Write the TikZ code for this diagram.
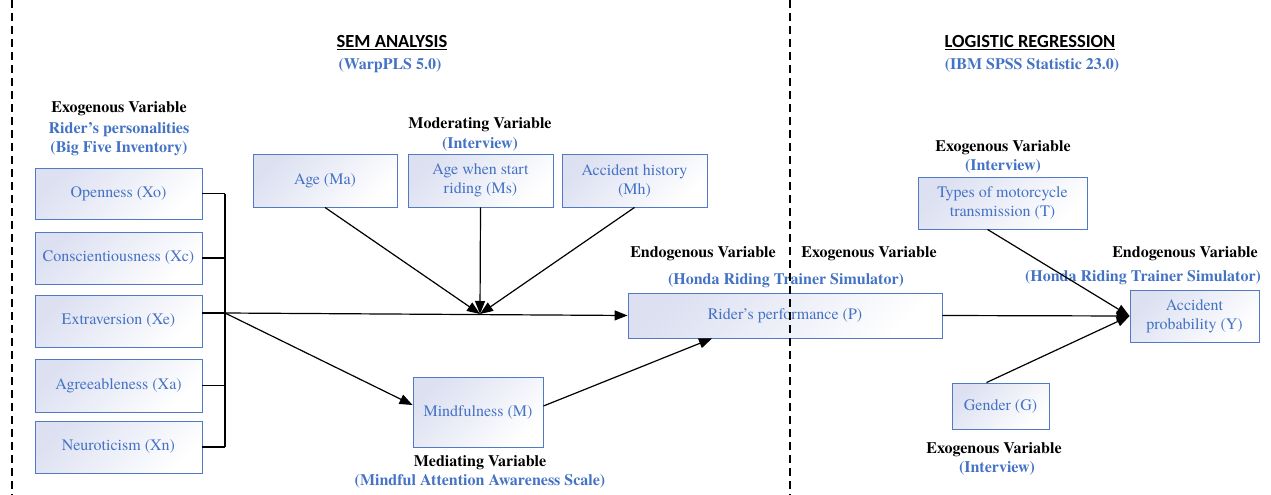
\documentclass[tikz,border=0pt]{standalone}
\usepackage{fontspec}
\setmainfont{TeX Gyre Termes}
\newfontfamily\titlefont{Carlito}
\usetikzlibrary{arrows.meta,calc}
\definecolor{txtblue}{HTML}{4472C4}
\definecolor{boxline}{HTML}{5079C6}
\definecolor{boxfill}{HTML}{DCE0F1}
\begin{document}
\begin{tikzpicture}[x=1pt,y=-1pt,
  box/.style={draw=boxline, line width=0.9pt, left color=boxfill, right color=white, shading angle=45,
    text=txtblue, font=\fontsize{16}{19}\selectfont, align=center, inner sep=2pt},
  head/.style={font=\bfseries\fontsize{16}{19}\selectfont, anchor=base},
  sub/.style={head, text=txtblue},
  subblock/.style={font=\bfseries\fontsize{16}{19}\selectfont, text=txtblue, align=center, inner sep=0pt},
  ttl/.style={font=\titlefont\bfseries\fontsize{18.5}{22}\selectfont, anchor=base},
  conn/.style={line width=1.2pt},
  arr/.style={conn, -{Triangle[length=13pt,width=10pt]}},
  divider/.style={line width=1.2pt, dash pattern=on 8pt off 5pt}]
\useasboundingbox (0,0) rectangle (1271,495);

% titles
\node[ttl] (t1) at (392,48) {\underline{SEM ANALYSIS}};
\node[sub] (t1s) at (390,70) {(WarpPLS 5.0)};
\node[ttl] (t2) at (1030,48) {\underline{LOGISTIC REGRESSION}};
\node[sub] (t2s) at (1032,70) {(IBM SPSS Statistic 23.0)};

% left personality boxes
\node[head] (lx) at (119,112) {Exogenous Variable};
\node[subblock] (lxs) at (119,139.5) {Rider’s personalities\\(Big Five Inventory)};
\node[box, minimum width=167pt, minimum height=51pt] (Xo) at (118.5,193.5) {Openness (Xo)};
\node[box, minimum width=167pt, minimum height=52pt] (Xc) at (118.5,258) {Conscientiousness (Xc)};
\node[box, minimum width=167pt, minimum height=52pt] (Xe) at (118.5,321) {Extraversion (Xe)};
\node[box, minimum width=167pt, minimum height=53pt] (Xa) at (118.5,385.5) {Agreeableness (Xa)};
\node[box, minimum width=167pt, minimum height=52pt] (Xn) at (118.5,447) {Neuroticism (Xn)};

% moderators
\node[head] (mv) at (480,128) {Moderating Variable};
\node[sub] (mvs) at (480,148) {(Interview)};
\node[box, minimum width=144pt, minimum height=53pt] (Ma) at (325,180.5) {Age (Ma)};
\node[box, minimum width=145pt, minimum height=53pt] (Ms) at (480.5,180.5) {Age when start\\riding (Ms)};
\node[box, minimum width=145pt, minimum height=53pt] (Mh) at (634.5,180.5) {Accident history\\(Mh)};

% mediator
\node[box, minimum width=130pt, minimum height=70pt] (M) at (478,412) {Mindfulness (M)};
\node[head] (mdv) at (480,466) {Mediating Variable};
\node[sub] (mdvs) at (480,485) {(Mindful Attention Awareness Scale)};

% performance
\node[head] (pen) at (703,257) {Endogenous Variable};
\node[head] (pex) at (869,257) {Exogenous Variable};
\node[sub] (ps) at (786,284) {(Honda Riding Trainer Simulator)};
\node[box, minimum width=314pt, minimum height=45pt] (P) at (785,315.5) {Rider’s performance (P)};

% logistic part
\node[head] (tx) at (1003,151) {Exogenous Variable};
\node[sub] (txs) at (1003,170) {(Interview)};
\node[box, minimum width=169pt, minimum height=52pt] (T) at (1002.5,203) {Types of motorcycle\\transmission (T)};
\node[head] (yen) at (1185,257) {Endogenous Variable};
\node[sub] (yens) at (1143,281) {(Honda Riding Trainer Simulator)};
\node[box, minimum width=129pt, minimum height=52pt] (Y) at (1194.5,316) {Accident\\probability (Y)};
\node[box, minimum width=97pt, minimum height=46pt] (G) at (1000.5,406) {Gender (G)};
\node[head] (gx) at (994,453) {Exogenous Variable};
\node[sub] (gxs) at (997,472) {(Interview)};

% connectors
\coordinate (J) at (225,313);
\coordinate (H) at (480,314);
\draw[conn] (Xo.east) -- (Xo.east -| J);
\draw[conn] (Xc.east) -- (Xc.east -| J);
\draw[conn] (Xa.east) -- (Xa.east -| J);
\draw[conn] (Xn.east) -- (Xn.east -| J);
\draw[conn] (Xe.east |- J) -- (J);
\draw[conn] (Xo.east -| J) -- (Xn.east -| J);
\draw[arr] (J) -- (P.west);
\draw[arr] (J) -- ($(M.west)+(0,-7)$);
\draw[arr] (Ma.south) -- (H);
\draw[arr] (Ms.south) -- (H);
\draw[arr] (Mh.south) -- (H);
\draw[arr] ($(M.east)+(0,-6)$) -- ($(P.south)+(-73,0)$);
\draw[arr] (P.east) -- (Y.west);
\draw[arr] ($(T.south)+(-15,0)$) -- (Y.west);
\draw[arr] ($(G.north)+(-14,0)$) -- (Y.west);

% dividers
\draw[divider] (12,0) -- (12,495);
\draw[divider] (790,0) -- (790,495);
\end{tikzpicture}
\end{document}
